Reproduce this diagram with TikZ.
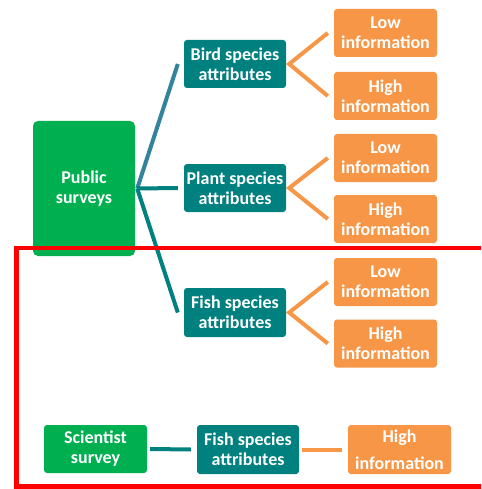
\documentclass[tikz,border=0pt]{standalone}
\usepackage{fontspec}
\setmainfont{Carlito}
\usetikzlibrary{calc}
\definecolor{pgreen}{HTML}{00B050}
\definecolor{pteal}{HTML}{00807F}
\definecolor{porange}{HTML}{F79646}
\definecolor{pblue}{HTML}{31849B}
\tikzset{
  box/.style={rounded corners=3pt, text=white, font=\bfseries\fontsize{18}{20}\selectfont, align=center, inner sep=0pt, minimum width=102pt, minimum height=48pt},
  greenbox/.style={box, fill=pgreen},
  tealbox/.style={box, fill=pteal},
  orangebox/.style={box, fill=porange, minimum width=103pt},
  tealline/.style={draw=pteal, line width=4pt},
  blueline/.style={draw=pblue, line width=4pt},
  orangeline/.style={draw=porange, line width=4pt},
}
\begin{document}
\begin{tikzpicture}[x=1pt,y=-1pt]
\useasboundingbox (0,0) rectangle (481,489);
\clip (0,0) rectangle (481,489);
\fill[white] (0,0) rectangle (481,489);
% nodes
\node[greenbox, minimum height=135pt, rounded corners=5pt] (pub) at (84,188.5) {Public\\surveys};
\node[tealbox] (bird) at (235,64) {Bird species\\attributes};
\node[tealbox] (plant) at (235,188) {Plant species\\attributes};
\node[tealbox, minimum height=49pt] (fish) at (235,312.5) {Fish species\\attributes};
\node[orangebox] (low1) at (385.5,33) {Low\\information};
\node[orangebox] (high1) at (385.5,96) {High\\information};
\node[orangebox] (low2) at (385.5,158) {Low\\information};
\node[orangebox] (high2) at (385.5,219) {High\\information};
\node[orangebox] (low3) at (385.5,282) {Low\\information};
\node[orangebox] (high3) at (385.5,343.5) {High\\information};
\node[greenbox, minimum width=103pt] (sci) at (95.5,449) {Scientist\\survey};
\node[tealbox, minimum height=49pt] (fish2) at (248,449.5) {Fish species\\attributes};
\node[orangebox, minimum height=49pt, font=\bfseries\fontsize{18}{27}\selectfont] (high4) at (399.5,449.5) {High\\information};
% connectors
\coordinate (j0) at ($(pub.east)+(2,0)$);
\path[blueline] (j0) -- ($(bird.west)+(-6,0)$);
\path[tealline] (j0) -- ($(plant.west)+(-6,0)$);
\path[tealline] (j0) -- ($(fish.west)+(-6,0)$);
\foreach \s/\a/\b in {bird/low1/high1, plant/low2/high2, fish/low3/high3}{
  \path[orangeline, line join=miter] ($(\a.west)+(-6,0)$) -- ($(\s.east)+(3,0)$) -- ($(\b.west)+(-6,0)$);
}
\path[tealline] ($(sci.east)+(3,0)$) -- ($(fish2.west)+(-6,0)$);
\path[orangeline] ($(fish2.east)+(3,0)$) -- ($(high4.west)+(-6,0)$);
% red frame
\draw[red, line width=4.5pt] (16.5,248) rectangle (500,486.5);
\end{tikzpicture}
\end{document}
